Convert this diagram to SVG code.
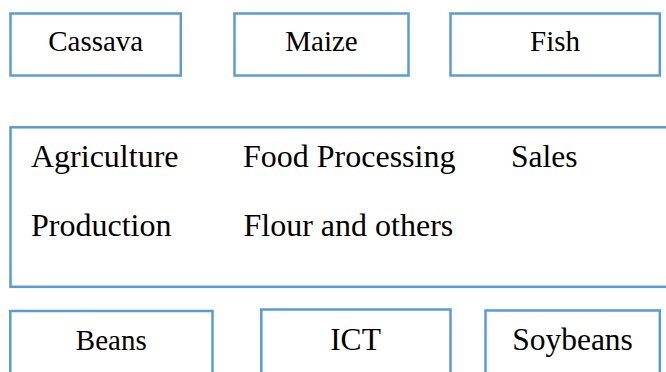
<svg xmlns="http://www.w3.org/2000/svg" width="666" height="372" viewBox="0 0 666 372">
<style>
.box{fill:#ffffff;stroke:#5b9bd5;stroke-width:2.5}
text{font-family:'Liberation Serif','Times New Roman','DejaVu Serif',serif;fill:#000000}
.c{text-anchor:middle}
</style>
<rect width="666" height="372" fill="#ffffff"/>
<g font-family="Liberation Serif, serif">
<g id="cassava">
<rect class="box" x="10.5" y="13.5" width="170.3" height="62"/>
<text class="c" x="95.7" y="50.5" font-size="29">Cassava</text>
</g>
<g id="maize">
<rect class="box" x="234.5" y="13.5" width="174" height="62"/>
<text class="c" x="321.5" y="50.5" font-size="29">Maize</text>
</g>
<g id="fish">
<rect class="box" x="450.5" y="13.5" width="209.3" height="62"/>
<text class="c" x="555" y="50.5" font-size="29">Fish</text>
</g>
<g id="sectors">
<rect class="box" x="10.5" y="127.3" width="680" height="159.5"/>
<text x="31" y="167.3" font-size="32">Agriculture</text>
<text x="243" y="167.3" font-size="32">Food Processing</text>
<text x="511" y="167.3" font-size="31.5">Sales</text>
<text x="31" y="235.8" font-size="32">Production</text>
<text x="243.5" y="235.8" font-size="32">Flour and others</text>
</g>
<g id="beans">
<rect class="box" x="10.3" y="311" width="202.2" height="80"/>
<text class="c" x="111.3" y="349.5" font-size="29">Beans</text>
</g>
<g id="ict">
<rect class="box" x="261.3" y="309.5" width="189.2" height="80"/>
<text class="c" x="355.5" y="350" font-size="31.5">ICT</text>
</g>
<g id="soybeans">
<rect class="box" x="485.5" y="310.5" width="174.3" height="80"/>
<text class="c" x="572.5" y="350" font-size="31.5">Soybeans</text>
</g>
<g id="connectors"/>
</g>
</svg>
